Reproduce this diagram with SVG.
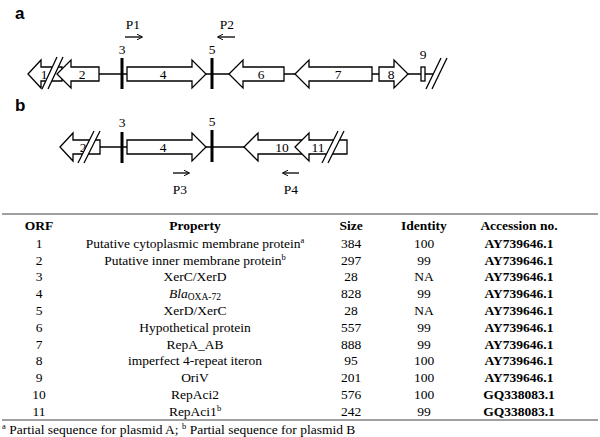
<svg xmlns="http://www.w3.org/2000/svg" width="600" height="437" viewBox="0 0 600 437">
<defs>
<marker id="ah" viewBox="0 0 10 10" refX="9" refY="5" markerWidth="6" markerHeight="6" markerUnits="userSpaceOnUse" orient="auto"><path d="M0,0 L10,5 L0,10" fill="none" stroke="#000" stroke-width="1.6"/></marker>
<style>
.g{fill:#fff;stroke:#000;stroke-width:1.3}
.ln{stroke:#000;stroke-width:1.3;fill:none}
.bar{stroke:#000;stroke-width:3}
.brk{fill:#fff;stroke:none}
.t{font-family:"Liberation Serif","Times New Roman",serif;font-size:13.5px;fill:#000;text-anchor:middle}
.tl{font-family:"Liberation Serif","Times New Roman",serif;font-size:13.5px;fill:#000}
.b{font-weight:bold}
.pa{font-family:"Liberation Sans",Arial,sans-serif;font-size:17px;font-weight:bold;fill:#000}
.pr{stroke:#000;stroke-width:1.3;marker-end:url(#ah)}
.rule{stroke:#808080;stroke-width:1.5}
</style>
</defs>
<text class="pa" x="15" y="19">a</text>
<text class="pa" x="15" y="111">b</text>
<g id="connectors">
<line class="ln" x1="99" y1="74" x2="433" y2="74"/>
<line class="ln" x1="100" y1="147" x2="244" y2="147"/>
<line class="pr" x1="125" y1="37" x2="142" y2="37"/>
<line class="pr" x1="235" y1="37" x2="218" y2="37"/>
<line class="pr" x1="173" y1="173" x2="189" y2="173"/>
<line class="pr" x1="299" y1="173" x2="283" y2="173"/>
</g>
<g id="panel-a">
<g id="a-orf1"><polygon class="g" points="28,74 41,60 41,67 62,67 62,81 41,81 41,88"/><text class="t" x="44" y="78.5">1</text></g>
<g id="a-orf2"><polygon class="g" points="57,74 71,60 71,67 99,67 99,81 71,81 71,88"/><text class="t" x="82" y="78.5">2</text></g>
<g id="a-break1"><polygon class="brk" points="57,57 63,57 48,89 42,89"/><line class="ln" x1="57" y1="57" x2="42" y2="89"/><line class="ln" x1="63" y1="57" x2="48" y2="89"/></g>
<g id="a-orf3"><line class="bar" x1="122" y1="58" x2="122" y2="89"/><text class="t" x="122" y="54">3</text></g>
<g id="a-orf4"><polygon class="g" points="127,67 192,67 192,60 206,74 192,88 192,81 127,81"/><text class="t" x="163" y="78.5">4</text></g>
<g id="a-orf5"><line class="bar" x1="212" y1="58" x2="212" y2="89"/><text class="t" x="212" y="54">5</text></g>
<g id="a-orf6"><polygon class="g" points="229,74 243,60 243,67 284,67 284,81 243,81 243,88"/><text class="t" x="261" y="78.5">6</text></g>
<g id="a-orf7"><polygon class="g" points="295,74 309,60 309,67 372,67 372,81 309,81 309,88"/><text class="t" x="338" y="78.5">7</text></g>
<g id="a-orf8"><polygon class="g" points="379,67 394,67 394,60 408,74 394,88 394,81 379,81"/><text class="t" x="391" y="78.5">8</text></g>
<g id="a-orf9"><rect class="g" x="421" y="67" width="4" height="14"/><text class="t" x="423" y="59">9</text></g>
<g id="a-break2"><line class="ln" x1="441" y1="58" x2="426" y2="89"/><line class="ln" x1="447" y1="58" x2="432" y2="89"/></g>
<g id="P1"><text class="t" x="133" y="29">P1</text></g>
<g id="P2"><text class="t" x="227" y="29">P2</text></g>
</g>
<g id="panel-b">
<g id="b-orf2"><polygon class="g" points="60,147 73,133 73,140 100,140 100,154 73,154 73,161"/><text class="t" x="83" y="151.5">2</text></g>
<g id="b-break1"><polygon class="brk" points="94,131 100,131 84,163 78,163"/><line class="ln" x1="94" y1="131" x2="78" y2="163"/><line class="ln" x1="100" y1="131" x2="84" y2="163"/></g>
<g id="b-orf3"><line class="bar" x1="122" y1="132" x2="122" y2="163"/><text class="t" x="122" y="127">3</text></g>
<g id="b-orf4"><polygon class="g" points="127,140 192,140 192,133 206,147 192,161 192,154 127,154"/><text class="t" x="163" y="151.5">4</text></g>
<g id="b-orf5"><line class="bar" x1="212" y1="130" x2="212" y2="162"/><text class="t" x="212" y="126">5</text></g>
<g id="b-orf10"><polygon class="g" points="244,147 258,133 258,140 310,140 310,154 258,154 258,161"/><text class="t" x="282" y="151.5">10</text></g>
<g id="b-orf11"><polygon class="g" points="295,147 309,133 309,140 347,140 347,154 309,154 309,161"/><text class="t" x="318" y="151.5">11</text></g>
<g id="b-break2"><polygon class="brk" points="338,131 344,131 328,163 322,163"/><line class="ln" x1="338" y1="131" x2="322" y2="163"/><line class="ln" x1="344" y1="131" x2="328" y2="163"/></g>
<g id="P3"><text class="t" x="180" y="194">P3</text></g>
<g id="P4"><text class="t" x="291" y="194">P4</text></g>
</g>
<g id="table">
<line class="rule" x1="2" y1="214" x2="598" y2="214"/>
<line class="rule" x1="2" y1="420" x2="598" y2="420"/>
<g class="b">
<text class="t b" x="39" y="229.5">ORF</text>
<text class="t b" x="195" y="229.5">Property</text>
<text class="t b" x="351" y="229.5">Size</text>
<text class="t b" x="424" y="229.5">Identity</text>
<text class="t b" x="519" y="229.5">Accession no.</text>
</g>
<g id="col-orf">
<text class="t" x="39" y="247.7">1</text>
<text class="t" x="39" y="264.5">2</text>
<text class="t" x="39" y="281.3">3</text>
<text class="t" x="39" y="298.1">4</text>
<text class="t" x="39" y="314.9">5</text>
<text class="t" x="39" y="331.7">6</text>
<text class="t" x="39" y="348.5">7</text>
<text class="t" x="39" y="365.3">8</text>
<text class="t" x="39" y="382.1">9</text>
<text class="t" x="39" y="398.9">10</text>
<text class="t" x="39" y="415.7">11</text>
</g>
<g id="col-property">
<text class="t" x="195" y="247.7">Putative cytoplasmic membrane protein<tspan font-size="8.5" dy="-5">a</tspan></text>
<text class="t" x="195" y="264.5">Putative inner membrane protein<tspan font-size="8.5" dy="-5">b</tspan></text>
<text class="t" x="195" y="281.3">XerC/XerD</text>
<text class="t" x="195" y="298.1"><tspan font-style="italic">Bla</tspan><tspan font-size="9.5" dy="2">OXA-72</tspan></text>
<text class="t" x="195" y="314.9">XerD/XerC</text>
<text class="t" x="195" y="331.7">Hypothetical protein</text>
<text class="t" x="195" y="348.5">RepA_AB</text>
<text class="t" x="195" y="365.3">imperfect 4-repeat iteron</text>
<text class="t" x="195" y="382.1">OriV</text>
<text class="t" x="195" y="398.9">RepAci2</text>
<text class="t" x="195" y="415.7">RepAci1<tspan font-size="8.5" dy="-5">b</tspan></text>
</g>
<g id="col-size">
<text class="t" x="351" y="247.7">384</text>
<text class="t" x="351" y="264.5">297</text>
<text class="t" x="351" y="281.3">28</text>
<text class="t" x="351" y="298.1">828</text>
<text class="t" x="351" y="314.9">28</text>
<text class="t" x="351" y="331.7">557</text>
<text class="t" x="351" y="348.5">888</text>
<text class="t" x="351" y="365.3">95</text>
<text class="t" x="351" y="382.1">201</text>
<text class="t" x="351" y="398.9">576</text>
<text class="t" x="351" y="415.7">242</text>
</g>
<g id="col-identity">
<text class="t" x="424" y="247.7">100</text>
<text class="t" x="424" y="264.5">99</text>
<text class="t" x="424" y="281.3">NA</text>
<text class="t" x="424" y="298.1">99</text>
<text class="t" x="424" y="314.9">NA</text>
<text class="t" x="424" y="331.7">99</text>
<text class="t" x="424" y="348.5">99</text>
<text class="t" x="424" y="365.3">100</text>
<text class="t" x="424" y="382.1">100</text>
<text class="t" x="424" y="398.9">100</text>
<text class="t" x="424" y="415.7">99</text>
</g>
<g id="col-accession" class="b">
<text class="t b" x="519" y="247.7">AY739646.1</text>
<text class="t b" x="519" y="264.5">AY739646.1</text>
<text class="t b" x="519" y="281.3">AY739646.1</text>
<text class="t b" x="519" y="298.1">AY739646.1</text>
<text class="t b" x="519" y="314.9">AY739646.1</text>
<text class="t b" x="519" y="331.7">AY739646.1</text>
<text class="t b" x="519" y="348.5">AY739646.1</text>
<text class="t b" x="519" y="365.3">AY739646.1</text>
<text class="t b" x="519" y="382.1">AY739646.1</text>
<text class="t b" x="519" y="398.9">GQ338083.1</text>
<text class="t b" x="519" y="415.7">GQ338083.1</text>
</g>
<text class="tl" x="2" y="434"><tspan font-size="8.5" dy="-5">a</tspan><tspan dy="5"> Partial sequence for plasmid A; </tspan><tspan font-size="8.5" dy="-5">b</tspan><tspan dy="5"> Partial sequence for plasmid B</tspan></text>
</g>
</svg>
